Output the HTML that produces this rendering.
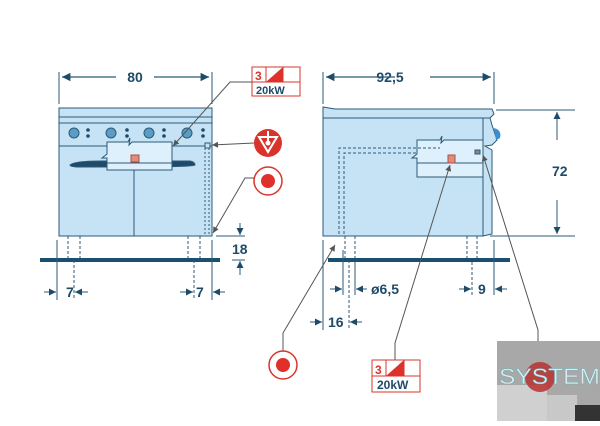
<!DOCTYPE html>
<html><head><style>html,body{margin:0;padding:0;background:#fff;}svg{display:block}</style></head>
<body>
<svg width="600" height="426" viewBox="0 0 600 426" xmlns="http://www.w3.org/2000/svg" font-family="Liberation Sans, sans-serif" font-weight="bold">
<defs>
<marker id="a" viewBox="0 0 10 10" refX="10" refY="5" markerWidth="9" markerHeight="7" orient="auto-start-reverse"><path d="M0,0 L10,5 L0,10 z" fill="#1f4a68"/></marker>
<marker id="g" viewBox="0 0 10 10" refX="10" refY="5" markerWidth="7" markerHeight="6" orient="auto"><path d="M0,0 L10,5 L0,10 z" fill="#555"/></marker>
</defs>
<g stroke="#2a5a7a" stroke-width="1">
<rect x="59" y="108" width="153" height="128" fill="#c6e3f5"/>
<line x1="59" y1="117" x2="212" y2="117"/><line x1="59" y1="123" x2="212" y2="123"/>
<line x1="59" y1="146" x2="212" y2="146"/>
<line x1="134" y1="170" x2="134" y2="236"/>
<path d="M70,165 Q75,161 100,161 L190,161 Q195,162 195,165 Q190,167 130,167 L80,167 Q70,167 70,165z" fill="#1f4a68"/>
<g fill="#5a9cc4"><circle cx="74" cy="133" r="5"/><circle cx="111" cy="133" r="5"/><circle cx="149" cy="133" r="5"/><circle cx="187" cy="133" r="5"/></g>
<g fill="#1f4a68" stroke="none"><circle cx="88" cy="130" r="1.8"/><circle cx="88" cy="136" r="1.8"/><circle cx="127" cy="130" r="1.8"/><circle cx="127" cy="136" r="1.8"/><circle cx="164" cy="130" r="1.8"/><circle cx="164" cy="136" r="1.8"/><circle cx="203" cy="130" r="1.8"/><circle cx="203" cy="136" r="1.8"/></g>
<path d="M107,142 L128,142 L130,138 L129,145 L132,142 L172,142 L172,170 L107,170 L107,158 L102,158 L107,154 Z" fill="#ddf0fb"/>
<line x1="107" y1="163" x2="172" y2="163"/>
<rect x="131" y="155" width="8" height="7" fill="#e08c7c" stroke="#b05040"/>
<rect x="205" y="143" width="5" height="5" fill="#c6e3f5"/>
<path d="M205,148 L205,235 M209,148 L209,235" stroke-dasharray="2,2" fill="none"/>
<path d="M68,236 L68,258 M80,236 L80,258 M188,236 L188,258 M200,236 L200,258" stroke-dasharray="3,2"/>
<line x1="40" y1="260" x2="220" y2="260" stroke="#1a4f6e" stroke-width="4"/>
<line x1="59" y1="72" x2="59" y2="104"/><line x1="212" y1="72" x2="212" y2="104"/>
<line x1="62" y1="77" x2="116" y2="77" marker-start="url(#a)" stroke-width="1.2"/>
<line x1="154" y1="77" x2="209" y2="77" marker-end="url(#a)" stroke-width="1.2"/>
<line x1="57" y1="240" x2="57" y2="300"/><line x1="74" y1="260" x2="74" y2="300" stroke-dasharray="3,2"/>
<line x1="194" y1="260" x2="194" y2="300" stroke-dasharray="3,2"/><line x1="212" y1="240" x2="212" y2="300"/>
<line x1="44" y1="292" x2="56" y2="292" marker-end="url(#a)"/><line x1="88" y1="292" x2="75" y2="292" marker-end="url(#a)"/>
<line x1="180" y1="292" x2="193" y2="292" marker-end="url(#a)"/><line x1="225" y1="292" x2="213" y2="292" marker-end="url(#a)"/>
<line x1="216" y1="236" x2="245" y2="236"/><line x1="232" y1="260" x2="245" y2="260"/>
<line x1="240" y1="223" x2="240" y2="235" marker-end="url(#a)"/><line x1="240" y1="275" x2="240" y2="261" marker-end="url(#a)"/>
</g>
<g stroke="#555" stroke-width="1" fill="none">
<path d="M252,82 L230,82 L173,146" marker-end="url(#g)"/>
<line x1="254" y1="143" x2="212" y2="145" marker-end="url(#g)"/>
<path d="M254,178 L245,178 L213,233" marker-end="url(#g)"/>
</g>
<g stroke="#d9342b" fill="#fff"><rect x="252" y="67" width="48" height="29"/><line x1="252" y1="82" x2="300" y2="82"/><line x1="266" y1="67" x2="266" y2="82"/><line x1="283" y1="67" x2="283" y2="82"/></g>
<path d="M266,82 L283,67 L283,82 Z" fill="#e0302a"/>
<text x="255" y="80" font-size="12" fill="#d9342b">3</text>
<text x="256" y="94" font-size="11" fill="#1f4a68">20kW</text>
<circle cx="268" cy="143" r="14" fill="#d9342b"/>
<path d="M259,137 L277,137 L268,152 Z" fill="none" stroke="#fff" stroke-width="2"/><line x1="268" y1="131" x2="268" y2="144" stroke="#fff" stroke-width="2"/><circle cx="268" cy="143" r="2.5" fill="#fff"/>
<circle cx="268" cy="181" r="14" fill="#fff" stroke="#d9342b" stroke-width="1.5"/><circle cx="268" cy="181" r="7" fill="#e0302a"/>
<g fill="#1f4a68" font-size="14">
<text x="135" y="82" text-anchor="middle">80</text>
<text x="66" y="297">7</text><text x="196" y="297">7</text>
<text x="232" y="254">18</text>
<text x="390" y="82" text-anchor="middle">92,5</text>
<text x="552" y="176">72</text>
<text x="371" y="294">ø6,5</text>
<text x="478" y="294">9</text>
<text x="328" y="327">16</text>
</g>
<g stroke="#2a5a7a" stroke-width="1">
<path d="M323,107 L335,109 L492,109 L494,114 L490,118 L323,118 Z" fill="#c6e3f5"/>
<rect x="323" y="118" width="160" height="118" fill="#c6e3f5"/>
<path d="M483,118 L490,118 L492,125 L497,140 L492,145 L485,146 L492,150 L492,234 L483,236 Z" fill="#c6e3f5"/>
<path d="M494,128 Q502,130 500,138 L496,140 Z" fill="#3a8fd0" stroke="none"/>
<path d="M417,140 L440,140 L442,136 L441,143 L444,140 L483,140 L483,177 L417,177 L417,158 L412,158 L417,154 Z" fill="#ddf0fb"/>
<line x1="417" y1="163" x2="483" y2="163"/>
<rect x="448" y="155" width="7" height="8" fill="#e08c7c" stroke="#b05040"/>
<rect x="475" y="150" width="5" height="4" fill="#888"/>
<path d="M339,234 L339,148 L440,148 M344,234 L344,153 L417,153" stroke-dasharray="3,2" fill="none"/>
<path d="M345,236 L345,258 M355,236 L355,258 M467,236 L467,258 M477,236 L477,258" stroke-dasharray="3,2"/>
<line x1="328" y1="260" x2="510" y2="260" stroke="#1a4f6e" stroke-width="4"/>
<line x1="323" y1="72" x2="323" y2="104"/><line x1="494" y1="72" x2="494" y2="104"/>
<line x1="326" y1="77" x2="395" y2="77" marker-start="url(#a)" stroke-width="1.2"/>
<line x1="430" y1="77" x2="491" y2="77" marker-end="url(#a)" stroke-width="1.2"/>
<line x1="496" y1="110" x2="575" y2="110"/><line x1="490" y1="236" x2="575" y2="236"/>
<line x1="557" y1="140" x2="557" y2="112" marker-end="url(#a)"/><line x1="557" y1="200" x2="557" y2="234" marker-end="url(#a)"/>
<line x1="323" y1="240" x2="323" y2="330"/><line x1="349" y1="260" x2="349" y2="330" stroke-dasharray="3,2"/>
<line x1="343" y1="250" x2="343" y2="295"/><line x1="355" y1="262" x2="355" y2="295"/>
<line x1="330" y1="289" x2="342" y2="289" marker-end="url(#a)"/><line x1="367" y1="289" x2="356" y2="289" marker-end="url(#a)"/>
<line x1="472" y1="262" x2="472" y2="295" stroke-dasharray="3,2"/><line x1="494" y1="240" x2="494" y2="295"/>
<line x1="459" y1="289" x2="471" y2="289" marker-end="url(#a)"/><line x1="507" y1="289" x2="495" y2="289" marker-end="url(#a)"/>
<line x1="310" y1="322" x2="322" y2="322" marker-end="url(#a)"/><line x1="362" y1="322" x2="350" y2="322" marker-end="url(#a)"/>
</g>
<g stroke="#555" stroke-width="1" fill="none">
<path d="M283,351 L283,333 L335,245" marker-end="url(#g)"/>
<path d="M395,360 L395,343 L450,165" marker-end="url(#g)"/>
<path d="M538,376 L538,330 L483,155" marker-end="url(#g)"/>
</g>
<circle cx="283" cy="365" r="14" fill="#fff" stroke="#d9342b" stroke-width="1.5"/><circle cx="283" cy="365" r="7" fill="#e0302a"/>
<g stroke="#d9342b" fill="#fff"><rect x="372" y="360" width="48" height="32"/><line x1="372" y1="376" x2="420" y2="376"/><line x1="386" y1="360" x2="386" y2="376"/><line x1="404" y1="360" x2="404" y2="376"/></g>
<path d="M386,376 L404,360 L404,376 Z" fill="#e0302a"/>
<text x="375" y="374" font-size="12" fill="#d9342b">3</text>
<text x="377" y="389" font-size="12" fill="#1f4a68">20kW</text>
<rect x="497" y="341" width="103" height="80" fill="#a8a8a8"/>
<rect x="497" y="385" width="50" height="36" fill="#d0d0d0"/>
<rect x="547" y="395" width="30" height="26" fill="#c8c8c8"/>
<rect x="575" y="405" width="25" height="16" fill="#333"/>
<circle cx="540" cy="377" r="15" fill="#b83030" opacity="0.85"/>
<text x="499" y="384" font-size="22" font-weight="normal" fill="#d8ecf4" stroke="#6aa" stroke-width="0.4" textLength="101" lengthAdjust="spacingAndGlyphs">SYSTEM</text>
</svg>
</body></html>
